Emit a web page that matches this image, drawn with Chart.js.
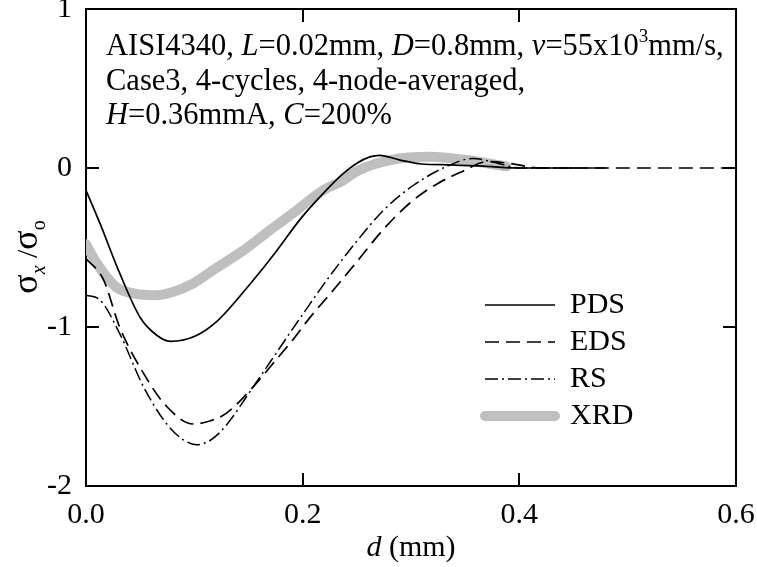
<!DOCTYPE html>
<html>
<head>
<meta charset="utf-8">
<script src="https://cdn.jsdelivr.net/npm/chart.js@4/dist/chart.umd.min.js"></script>
<style>
  html, body { margin: 0; padding: 0; background: #ffffff; }
  #wrap { width: 757px; height: 567px; position: relative; }
</style>
</head>
<body>
<div id="wrap"><canvas id="c" width="757" height="567"></canvas></div>
<script>
// ---- data ----
const seriesNames = ['PDS', 'EDS', 'RS', 'XRD'];

const pdsD = [0, 0.013, 0.031, 0.05, 0.065, 0.078, 0.1, 0.12, 0.149, 0.175, 0.198, 0.219, 0.235, 0.25, 0.262, 0.271, 0.29, 0.31, 0.336, 0.37, 0.4, 0.45, 0.48];
const pdsV = [-0.14, -0.35, -0.66, -0.94, -1.05, -1.09, -1.06, -0.97, -0.75, -0.53, -0.32, -0.16, -0.05, 0.03, 0.07, 0.08, 0.05, 0.025, 0.02, 0.01, 0.0, 0.0, 0.0];

const edsD = [0, 0.016, 0.031, 0.053, 0.0745, 0.099, 0.115, 0.13, 0.1545, 0.175, 0.191, 0.205, 0.228, 0.25, 0.274, 0.299, 0.324, 0.348, 0.37, 0.39, 0.42, 0.5, 0.6];
const edsV = [-0.57, -0.70, -1.0, -1.29, -1.50, -1.61, -1.59, -1.54, -1.375, -1.21, -1.08, -0.955, -0.77, -0.59, -0.39, -0.22, -0.10, -0.02, 0.04, 0.03, 0.0, 0.0, 0.0];

const rsD = [0, 0.013, 0.031, 0.053, 0.0745, 0.09, 0.102, 0.113, 0.124, 0.136, 0.148, 0.17, 0.195, 0.225, 0.25, 0.274, 0.302, 0.333, 0.357, 0.38, 0.4, 0.45];
const rsV = [-0.80, -0.83, -1.04, -1.375, -1.61, -1.71, -1.74, -1.72, -1.66, -1.56, -1.44, -1.22, -0.97, -0.68, -0.46, -0.27, -0.11, 0.01, 0.06, 0.03, 0.0, 0.0];

const xrdD = [0, 0.01, 0.028, 0.045, 0.065, 0.08, 0.099, 0.12, 0.145, 0.17, 0.191, 0.219, 0.237, 0.25, 0.281, 0.318, 0.351, 0.37, 0.388];
const xrdV = [-0.48, -0.60, -0.75, -0.79, -0.80, -0.78, -0.725, -0.63, -0.52, -0.39, -0.285, -0.14, -0.08, -0.02, 0.05, 0.07, 0.05, 0.03, 0.01];

const xTicks = [0.0, 0.2, 0.4, 0.6];
const yTicks = [-2, -1, 0, 1];

const xTitleParts = [['d', 'italic'], [' (mm)', 'normal']];
const noteLines = [
  [['AISI4340, ', 'n'], ['L', 'i'], ['=0.02mm, ', 'n'], ['D', 'i'], ['=0.8mm, ', 'n'], ['v', 'i'], ['=55x10', 'n'], ['3', 'sup'], ['mm/s,', 'n']],
  [['Case3, 4-cycles, 4-node-averaged,', 'n']],
  [['H', 'i'], ['=0.36mmA, ', 'n'], ['C', 'i'], ['=200%', 'n']]
];

// ---- build chart ----
const FAM = '"Liberation Serif", "Times New Roman", serif';
const pts = (d, v) => d.map((x, i) => ({ x: x, y: v[i] }));

const TICK = 13; // inward tick length

function fixAxis(size, horiz) {
  return function (s) {
    if (horiz) s.height = size; else s.width = size;
    s.paddingLeft = 0; s.paddingRight = 0; s.paddingTop = 0; s.paddingBottom = 0;
  };
}

// inward tick marks, positioned by the chart's own scales
function drawInwardTicks(chart) {
  const ctx = chart.ctx, ca = chart.chartArea;
  const sx = chart.scales.x, sy = chart.scales.y;
  ctx.save();
  ctx.fillStyle = '#000000';
  xTicks.forEach(v => {
    if (v <= sx.min || v >= sx.max) return;
    const px = Math.round(sx.getPixelForValue(v));
    ctx.fillRect(px - 1, Math.round(ca.bottom) - TICK, 2, TICK);
    ctx.fillRect(px - 1, Math.round(ca.top), 2, TICK);
  });
  yTicks.forEach(v => {
    if (v <= sy.min || v >= sy.max) return;
    const py = Math.round(sy.getPixelForValue(v));
    ctx.fillRect(Math.round(ca.left), py - 1, TICK, 2);
    ctx.fillRect(Math.round(ca.right) - TICK, py - 1, TICK, 2);
  });
  ctx.restore();
}

const richText = {
  id: 'richText',
  afterDraw(chart) {
    const ctx = chart.ctx;
    drawInwardTicks(chart);
    const FS = 30.5;
    const fonts = {
      n: 'normal ' + FS + 'px ' + FAM,
      i: 'italic ' + FS + 'px ' + FAM,
      sup: 'normal 19px ' + FAM
    };
    ctx.save();
    ctx.fillStyle = '#000';
    ctx.textAlign = 'left';
    ctx.textBaseline = 'alphabetic';
    // annotation
    const baseY = [55, 90, 124];
    noteLines.forEach((line, li) => {
      let x = 106;
      line.forEach(([t, st]) => {
        ctx.font = fonts[st];
        const dy = st === 'sup' ? -13 : 0;
        ctx.fillText(t, x, baseY[li] + dy);
        x += ctx.measureText(t).width;
      });
    });
    // x title
    const ca = chart.chartArea;
    let w = 0;
    xTitleParts.forEach(([t, st]) => { ctx.font = st + ' 30px ' + FAM; w += ctx.measureText(t).width; });
    let x = (ca.left + ca.right) / 2 - w / 2;
    ctx.textBaseline = 'middle';
    xTitleParts.forEach(([t, st]) => {
      ctx.font = st + ' 30px ' + FAM;
      ctx.fillText(t, x, 548);
      x += ctx.measureText(t).width;
    });
    // y title (rotated)
    const yParts = [['σ', 'normal 36px ', 0], ['x', 'italic 20px ', 8], [' /', 'normal 30px ', 0], ['σ', 'normal 36px ', 0], ['o', 'normal 20px ', 8]];
    w = 0;
    yParts.forEach(([t, f]) => { ctx.font = f + FAM; w += ctx.measureText(t).width; });
    ctx.translate(27, 257);
    ctx.rotate(-Math.PI / 2);
    ctx.textBaseline = 'alphabetic';
    x = -w / 2;
    yParts.forEach(([t, f, dy]) => {
      ctx.font = f + FAM;
      ctx.fillText(t, x, 10 + dy);
      x += ctx.measureText(t).width;
    });
    ctx.restore();
  }
};

const legendPlace = {
  id: 'legendPlace',
  beforeDraw(chart) {
    const lg = chart.legend;
    if (!lg) return;
    lg.left = 478; lg.top = 283; lg.right = 757; lg.bottom = 567;
  }
};

new Chart(document.getElementById('c'), {
  type: 'line',
  data: {
    datasets: [
      { label: seriesNames[0], data: pts(pdsD, pdsV), borderColor: '#000', borderWidth: 1.7, cubicInterpolationMode: 'monotone', pointRadius: 0, fill: false },
      { label: seriesNames[1], data: pts(edsD, edsV), borderColor: '#000', borderWidth: 1.7, borderDash: [14, 7], cubicInterpolationMode: 'monotone', pointRadius: 0, fill: false },
      { label: seriesNames[2], data: pts(rsD, rsV), borderColor: '#000', borderWidth: 1.5, borderDash: [13, 4, 2, 4], cubicInterpolationMode: 'monotone', pointRadius: 0, fill: false },
      { label: seriesNames[3], data: pts(xrdD, xrdV), borderColor: '#bfbfbf', borderWidth: 10, borderCapStyle: 'round', borderJoinStyle: 'round', cubicInterpolationMode: 'monotone', pointRadius: 0, fill: false }
    ]
  },
  options: {
    responsive: false,
    animation: false,
    devicePixelRatio: 1,
    layout: { padding: { top: 9, right: 21, left: 0, bottom: 0 } },
    plugins: {
      legend: {
        position: 'chartArea',
        align: 'start',
        padding: 10,
        labels: {
          usePointStyle: true,
          pointStyle: 'line',
          pointStyleWidth: 70,
          boxHeight: 30,
          padding: 7,
          color: '#000',
          font: { family: FAM, size: 30 },
          generateLabels(chart) {
            const items = Chart.defaults.plugins.legend.labels.generateLabels(chart);
            items.forEach(it => {
              const ds = chart.data.datasets[it.datasetIndex];
              it.lineDash = ds.borderDash || [];
              it.lineWidth = ds.borderWidth;
              it.lineCap = ds.borderCapStyle || 'butt';
              it.strokeStyle = ds.borderColor;
              it.pointStyle = 'line';
            });
            return items;
          }
        }
      },
      tooltip: { enabled: false }
    },
    scales: {
      x: {
        type: 'linear', position: 'bottom', min: 0, max: 0.6,
        afterBuildTicks: s => { s.ticks = xTicks.map(v => ({ value: v })); },
        afterFit: fixAxis(81, true),
        ticks: { color: '#000', font: { family: FAM, size: 30 }, padding: 11, maxRotation: 0, autoSkip: false,
                 callback: v => Number(v).toFixed(1) },
        grid: { drawOnChartArea: false, drawTicks: false },
        border: { display: true, color: '#000', width: 2 }
      },
      x2: {
        type: 'linear', position: 'top', min: 0, max: 0.6,
        afterBuildTicks: s => { s.ticks = xTicks.map(v => ({ value: v })); },
        afterFit: fixAxis(0, true),
        ticks: { display: false },
        grid: { drawOnChartArea: false, drawTicks: false },
        border: { display: true, color: '#000', width: 2 }
      },
      y: {
        type: 'linear', position: 'left', min: -2, max: 1,
        afterBuildTicks: s => { s.ticks = yTicks.map(v => ({ value: v })); },
        afterFit: fixAxis(86, false),
        ticks: { color: '#000', font: { family: FAM, size: 30 }, padding: 14, autoSkip: false },
        grid: { drawOnChartArea: false, drawTicks: false },
        border: { display: true, color: '#000', width: 2 }
      },
      y2: {
        type: 'linear', position: 'right', min: -2, max: 1,
        afterBuildTicks: s => { s.ticks = yTicks.map(v => ({ value: v })); },
        afterFit: fixAxis(0, false),
        ticks: { display: false },
        grid: { drawOnChartArea: false, drawTicks: false },
        border: { display: true, color: '#000', width: 2 }
      }
    }
  },
  plugins: [legendPlace, richText]
});
</script>
</body>
</html>
